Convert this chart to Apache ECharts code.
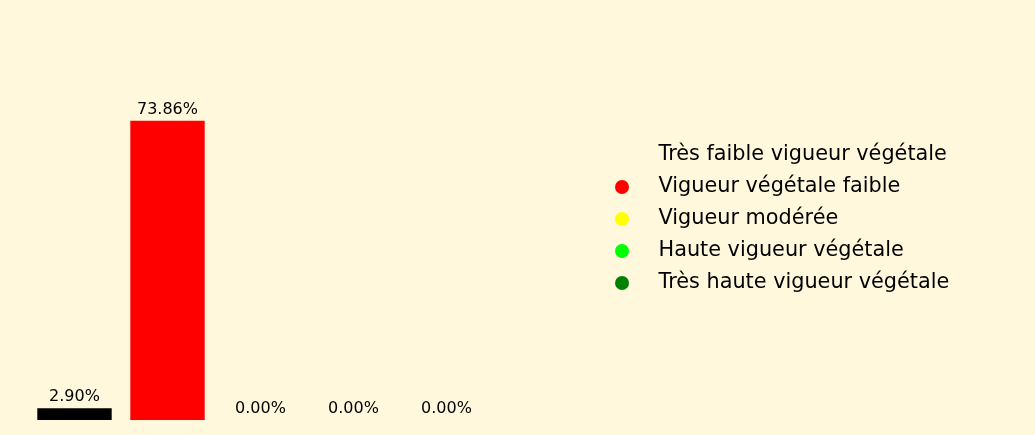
<!DOCTYPE html>
<html><head><meta charset="utf-8">
<script src="https://cdn.jsdelivr.net/npm/echarts@6/dist/echarts.min.js"></script>
<style>html,body{margin:0;padding:0;background:#FFF8DC;}#c{width:1035px;height:435px;}</style>
</head><body><div id="c"></div>
<script>
const categories = ["Très faible vigueur végétale","Vigueur végétale faible","Vigueur modérée","Haute vigueur végétale","Très haute vigueur végétale"];
const values = [2.90, 73.86, 0.00, 0.00, 0.00];
const colors = ["#000000","#FF0000","#FFFF00","#00FF00","#008000"];
const legendIconColors = ["rgba(0,0,0,0)","#FF0000","#FFFF00","#00FF00","#008000"];

const series = categories.map((name, i) => ({
  name: name,
  type: 'bar',
  stack: 'all',
  barWidth: '80%',
  itemStyle: {color: colors[i]},
  data: values.map((v, j) => j === i ? v : '-'),
  label: {
    show: true, position: 'top', distance: 3,
    fontFamily: 'DejaVu Sans', fontSize: 16, color: '#000',
    formatter: p => p.value.toFixed(2) + '%'
  },
  animation: false
}));

const chart = echarts.init(document.getElementById('c'));
chart.setOption({
  backgroundColor: '#FFF8DC',
  animation: false,
  grid: {left: 28, width: 465, top: 96, bottom: 15, containLabel: false},
  xAxis: {type: 'category', data: categories, show: false},
  yAxis: {type: 'value', min: 0, max: 80, show: false},
  legend: {
    orient: 'vertical', left: 610, top: 139,
    itemWidth: 63, itemHeight: 14, itemGap: 10,
    icon: 'circle',
    textStyle: {fontFamily: 'DejaVu Sans', fontSize: 20.8, color: '#000', lineHeight: 22},
    data: categories.map((n, i) => ({name: n, itemStyle: {color: legendIconColors[i]}})),
    selectedMode: false
  },
  series: series
});
</script></body></html>
